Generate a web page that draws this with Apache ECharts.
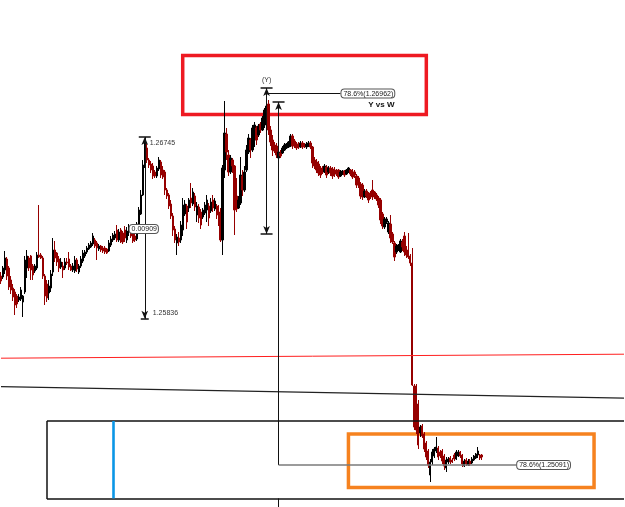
<!DOCTYPE html>
<html><head><meta charset="utf-8">
<script src="https://cdn.jsdelivr.net/npm/echarts@6/dist/echarts.min.js"></script>
<style>html,body{margin:0;padding:0;background:#fff;}#c{width:625px;height:507px;}</style>
</head><body><div id="c"></div>
<script>
const barCount = 313;
const categories = Array.from({length: barCount}, (_, i) => String(i + 1));

const openP = [
1.26050,1.26045,1.26080,1.26135,1.26090,1.26030,1.25990,1.25970,1.25950,1.25930,
1.25935,1.25920,1.25970,1.26090,1.26140,1.26150,1.26100,1.26075,1.26090,1.26155,
1.26155,1.26140,1.26050,1.26010,1.25965,1.25990,1.26070,1.26180,1.26165,1.26135,
1.26095,1.26100,1.26090,1.26120,1.26135,1.26100,1.26080,1.26075,1.26130,1.26070,
1.26100,1.26125,1.26150,1.26170,1.26185,1.26195,1.26210,1.26230,1.26215,1.26185,
1.26200,1.26190,1.26190,1.26185,1.26175,1.26205,1.26230,1.26240,1.26280,1.26230,
1.26280,1.26265,
1.26280,1.26230,1.26270,1.26285,1.26265,1.26250,1.26235,1.26310,
1.26360,1.26455,1.26600,1.26690,1.26630,1.26610,1.26600,1.26570,1.26550,1.26585,
1.26620,1.26580,1.26570,1.26480,1.26455,1.26410,1.26350,1.26285,1.26215,1.26240,
1.26230,1.26280,1.26360,1.26400,1.26390,1.26440,1.26410,1.26450,1.26355,1.26395,
1.26370,1.26345,1.26365,1.26380,1.26400,1.26375,1.26430,1.26385,1.26400,1.26370,
1.26320,1.26230,1.26580,1.26760,1.26655,1.26570,1.26630,1.26600,1.26450,1.26390,
1.26415,1.26550,1.26480,
1.26580,1.26670,1.26730,1.26680,1.26730,1.26790,1.26755,
1.26810,1.26780,1.26805,1.26840,1.26910,1.26780,1.26730,1.26705,1.26700,1.26640,
1.26665,1.26665,1.26680,1.26690,1.26695,1.26700,1.26750,1.26725,1.26710,1.26710,
1.26695,1.26715,1.26705,1.26695,1.26700,1.26715,1.26695,1.26630,1.26620,1.26610,
1.26590,1.26580,1.26570,1.26595,1.26570,1.26590,1.26585,1.26580,1.26575,1.26580,
1.26550,1.26565,1.26575,1.26560,1.26570,1.26580,1.26570,1.26570,1.26550,1.26540,
1.26510,1.26505,1.26445,1.26475,1.26460,1.26465,1.26480,1.26470,1.26455,1.26440,
1.26430,1.26360,1.26295,1.26320,1.26270,1.26310,1.26260,1.26215,1.26170,1.26180,
1.26170,1.26220,1.26250,1.26190,1.26180,1.26150,1.26115,1.25500,1.25500,1.25410,
1.25265,1.25300,1.25260,1.25215,1.25175,1.25055,1.25120,1.25150,1.25175,1.25190,
1.25170,1.25175,1.25150,1.25090,1.25120,1.25140,1.25130,1.25155,1.25135,1.25150,
1.25170,1.25155,1.25100,1.25130,1.25105,1.25125,1.25115,1.25130,1.25140,1.25155,
1.25155,1.25155];

const highP = [
1.26070,1.26100,1.26175,1.26145,1.26100,1.26050,1.26010,1.25985,1.25960,1.25960,
1.25995,1.25955,1.26150,1.26180,1.26150,1.26155,1.26110,1.26110,1.26170,1.26405,
1.26165,1.26150,1.26060,1.26030,1.26030,1.26080,1.26240,1.26225,1.26170,1.26150,
1.26140,1.26120,1.26140,1.26140,1.26170,1.26110,1.26115,1.26150,1.26140,1.26110,
1.26150,1.26180,1.26180,1.26200,1.26215,1.26225,1.26265,1.26240,1.26225,1.26210,
1.26205,1.26200,1.26200,1.26190,1.26230,1.26250,1.26265,1.26275,1.26305,1.26285,
1.26290,1.26275,
1.26300,1.26295,1.26310,1.26300,1.26280,1.26275,1.26320,1.26395,
1.26480,1.26630,1.26725,1.26710,1.26640,1.26625,1.26615,1.26580,1.26600,1.26645,
1.26630,1.26600,1.26580,1.26490,1.26465,1.26430,1.26365,1.26300,1.26260,1.26270,
1.26325,1.26440,1.26430,1.26410,1.26440,1.26515,1.26490,1.26465,1.26420,1.26410,
1.26385,1.26390,1.26420,1.26455,1.26415,1.26440,1.26455,1.26440,1.26410,1.26405,
1.26390,1.26605,1.26925,1.26790,1.26680,1.26655,1.26640,1.26605,1.26540,1.26450,
1.26645,1.26580,1.26600,
1.26705,1.26760,1.26740,1.26805,1.26820,1.26800,1.26810,
1.26820,1.26850,1.26890,1.26990,1.26930,1.26800,1.26755,1.26720,1.26715,1.26680,
1.26680,1.26700,1.26715,1.26715,1.26725,1.26760,1.26760,1.26735,1.26720,1.26720,
1.26725,1.26725,1.26715,1.26720,1.26725,1.26725,1.26700,1.26645,1.26635,1.26625,
1.26600,1.26600,1.26610,1.26605,1.26600,1.26600,1.26595,1.26595,1.26585,1.26585,
1.26580,1.26580,1.26580,1.26585,1.26595,1.26585,1.26585,1.26580,1.26560,1.26550,
1.26520,1.26515,1.26485,1.26485,1.26470,1.26475,1.26530,1.26475,1.26465,1.26450,
1.26440,1.26370,1.26345,1.26345,1.26325,1.26355,1.26270,1.26225,1.26210,1.26210,
1.26235,1.26235,1.26270,1.26200,1.26265,1.26160,1.26190,1.25510,1.25510,1.25430,
1.25305,1.25310,1.25270,1.25225,1.25185,1.25135,1.25185,1.25195,1.25245,1.25200,
1.25180,1.25185,1.25160,1.25145,1.25145,1.25150,1.25140,1.25165,1.25180,1.25180,
1.25175,1.25160,1.25135,1.25140,1.25135,1.25135,1.25145,1.25155,1.25165,1.25195,
1.25160,1.25160];

const lowP = [
1.26010,1.26035,1.26060,1.26030,1.25980,1.25960,1.25925,1.25855,1.25890,1.25920,
1.25925,1.25845,1.25960,1.26040,1.26075,1.26030,1.26030,1.26065,1.26080,1.26140,
1.26135,1.26035,1.25905,1.25920,1.25930,1.25970,1.26050,1.26120,1.26100,1.26070,
1.26085,1.26040,1.26080,1.26105,1.26080,1.26075,1.26070,1.26065,1.26070,1.26060,
1.26090,1.26115,1.26140,1.26160,1.26180,1.26190,1.26200,1.26190,1.26130,1.26175,
1.26170,1.26165,1.26160,1.26160,1.26170,1.26195,1.26220,1.26230,1.26220,1.26220,
1.26215,1.26210,
1.26220,1.26215,1.26250,1.26240,1.26215,1.26220,1.26225,1.26300,
1.26355,1.26450,1.26590,1.26615,1.26590,1.26565,1.26535,1.26540,1.26540,1.26575,
1.26540,1.26535,1.26455,1.26435,1.26385,1.26335,1.26250,1.26215,1.26155,1.26200,
1.26215,1.26250,1.26350,1.26285,1.26370,1.26390,1.26400,1.26375,1.26320,1.26315,
1.26285,1.26335,1.26355,1.26320,1.26300,1.26365,1.26370,1.26375,1.26335,1.26300,
1.26220,1.26155,1.26540,1.26630,1.26550,1.26560,1.26565,1.26255,1.26370,1.26385,
1.26405,1.26450,1.26470,
1.26570,1.26660,1.26640,1.26670,1.26695,1.26705,1.26745,
1.26765,1.26775,1.26790,1.26830,1.26755,1.26700,1.26650,1.26665,1.26640,1.26625,
1.26640,1.26660,1.26675,1.26685,1.26690,1.26695,1.26685,1.26690,1.26680,1.26685,
1.26690,1.26685,1.26690,1.26685,1.26695,1.26685,1.26590,1.26585,1.26565,1.26550,
1.26540,1.26560,1.26565,1.26540,1.26560,1.26550,1.26535,1.26545,1.26550,1.26535,
1.26545,1.26555,1.26545,1.26555,1.26565,1.26550,1.26535,1.26540,1.26490,1.26490,
1.26435,1.26430,1.26440,1.26440,1.26415,1.26435,1.26430,1.26435,1.26425,1.26390,
1.26310,1.26285,1.26285,1.26310,1.26260,1.26215,1.26210,1.26125,1.26160,1.26175,
1.26165,1.26175,1.26150,1.26140,1.26135,1.26100,1.25500,1.25280,1.25260,1.25185,
1.25245,1.25240,1.25170,1.25130,1.25090,1.25020,1.25105,1.25140,1.25165,1.25130,
1.25140,1.25110,1.25080,1.25070,1.25110,1.25110,1.25115,1.25125,1.25130,1.25145,
1.25140,1.25095,1.25095,1.25100,1.25100,1.25100,1.25110,1.25125,1.25135,1.25140,
1.25130,1.25130];

const closeP = [
1.26025,1.26090,1.26140,1.26050,1.25995,1.25980,1.25945,1.25905,1.25910,1.25945,
1.25980,1.25950,1.26130,1.26150,1.26090,1.26080,1.26055,1.26100,1.26155,1.26145,
1.26140,1.26050,1.25950,1.25940,1.26000,1.26060,1.26180,1.26140,1.26120,1.26090,
1.26120,1.26080,1.26120,1.26115,1.26095,1.26080,1.26100,1.26130,1.26085,1.26100,
1.26135,1.26165,1.26170,1.26190,1.26205,1.26215,1.26250,1.26200,1.26190,1.26200,
1.26180,1.26175,1.26170,1.26165,1.26215,1.26235,1.26255,1.26260,1.26230,1.26270,
1.26220,1.26220,
1.26240,1.26275,1.26290,1.26250,1.26225,1.26230,1.26310,1.26380,
1.26455,1.26605,1.26695,1.26630,1.26605,1.26580,1.26550,1.26550,1.26590,1.26630,
1.26555,1.26545,1.26480,1.26450,1.26400,1.26350,1.26280,1.26230,1.26245,1.26220,
1.26305,1.26405,1.26410,1.26320,1.26430,1.26415,1.26470,1.26395,1.26400,1.26340,
1.26305,1.26380,1.26405,1.26430,1.26340,1.26420,1.26390,1.26425,1.26355,1.26320,
1.26230,1.26590,1.26765,1.26670,1.26570,1.26640,1.26600,1.26380,1.26385,1.26430,
1.26555,1.26480,1.26570,
1.26680,1.26740,1.26680,1.26790,1.26805,1.26730,1.26800,
1.26780,1.26840,1.26880,1.26900,1.26780,1.26720,1.26680,1.26675,1.26655,1.26670,
1.26650,1.26690,1.26705,1.26710,1.26720,1.26750,1.26700,1.26700,1.26690,1.26695,
1.26715,1.26695,1.26700,1.26710,1.26715,1.26695,1.26615,1.26600,1.26580,1.26565,
1.26555,1.26570,1.26600,1.26555,1.26590,1.26565,1.26550,1.26560,1.26560,1.26545,
1.26570,1.26575,1.26555,1.26580,1.26590,1.26560,1.26545,1.26555,1.26505,1.26505,
1.26450,1.26445,1.26475,1.26450,1.26430,1.26445,1.26450,1.26445,1.26435,1.26405,
1.26330,1.26300,1.26335,1.26335,1.26315,1.26240,1.26220,1.26145,1.26200,1.26205,
1.26225,1.26195,1.26170,1.26155,1.26145,1.26115,1.25505,1.25295,1.25280,1.25205,
1.25295,1.25250,1.25185,1.25145,1.25105,1.25120,1.25170,1.25185,1.25195,1.25145,
1.25150,1.25125,1.25100,1.25130,1.25135,1.25120,1.25120,1.25135,1.25170,1.25170,
1.25150,1.25110,1.25125,1.25110,1.25125,1.25110,1.25135,1.25150,1.25160,1.25175,
1.25140,1.25145];

const priceRange = [1.24895, 1.27430];

// price-measure tool (bar index, top/bottom prices, labels)
const measureBar = 72;
const measurePrices = [1.26745, 1.25836];
const measureLabels = ['1.26745', '1.25836', '0.00909'];

// "Y vs W" drawing
const yMarkBar = 133;
const yMarkPrices = [1.26990, 1.26260];
const wMarkBar = 139;
const wMarkPrice = 1.26920;
const fibPrices = [1.26962, 1.25105];
const fibLabelBars = [170, 258];
const fibLabels = ['78.6%(1.26962)', '78.6%(1.25091)'];
const titleTexts = ['(Y)', 'Y vs W'];

// trend / average lines
const redLine = [[0, 1.25639], [312, 1.25659]];
const darkLine = [[0, 1.25497], [312, 1.25439]];
const blueLine = [[56, 1.25325], [56, 1.24938]];
const wTick = [[139, 1.24938], [139, 1.24895]];

// highlight boxes
const redBox = [[91, 1.27153], [213, 1.26857]];
const orangeBox = [[174, 1.25260], [297, 1.24992]];
const blackFrame = [[23, 1.25325], [312, 1.24935]];

const candleData = openP.map((o, i) => [o, closeP[i], lowP[i], highP[i]]);

const black = {color: '#111', width: 1, type: 'solid'};
const thickBlack = {color: '#111', width: 1.5, type: 'solid'};
const arrow = {symbol: 'arrow', symbolSize: [5, 8]};
function seg(a, b, style, sa, sb) {
  return [Object.assign({coord: a, lineStyle: style}, sa || {}), Object.assign({coord: b}, sb || {})];
}

const fL = blackFrame[0][0], fR = blackFrame[1][0], fT = blackFrame[0][1], fB = blackFrame[1][1];
const mlData = [
  seg(redLine[0], redLine[1], {color: '#ff1f1f', width: 1, type: 'solid'}),
  seg(darkLine[0], darkLine[1], {color: '#222', width: 1.2, type: 'solid'}),
  // open-ended black frame (left, top, bottom)
  seg([fL, fT], [fR, fT], thickBlack),
  seg([fL, fB], [fR, fB], thickBlack),
  seg([fL, fT], [fL, fB], thickBlack),
  seg(blueLine[0], blueLine[1], {color: '#0b96e6', width: 2.6, type: 'solid'}),
  seg(wTick[0], wTick[1], black),
  // measure tool
  seg([measureBar, measurePrices[0]], [measureBar, measurePrices[1]], black, arrow, arrow),
  seg([measureBar - 3, measurePrices[0]], [measureBar + 3, measurePrices[0]], thickBlack),
  seg([measureBar - 2, measurePrices[1]], [measureBar + 2, measurePrices[1]], thickBlack),
  // Y mark
  seg([yMarkBar, yMarkPrices[0]], [yMarkBar, yMarkPrices[1]], black, arrow, arrow),
  seg([yMarkBar - 3, yMarkPrices[0]], [yMarkBar + 3, yMarkPrices[0]], thickBlack),
  seg([yMarkBar - 3, yMarkPrices[1]], [yMarkBar + 3, yMarkPrices[1]], thickBlack),
  seg([yMarkBar, fibPrices[0]], [fibLabelBars[0], fibPrices[0]], black),
  // W mark
  seg([wMarkBar, wMarkPrice], [wMarkBar, fibPrices[1]], black, arrow, {symbol: 'none'}),
  seg([wMarkBar - 3, wMarkPrice], [wMarkBar + 3, wMarkPrice], thickBlack),
  seg([wMarkBar, fibPrices[1]], [fibLabelBars[1], fibPrices[1]], {color: '#7a7a7a', width: 1.5, type: 'solid'})
];

const box = (b, color, w) => [{coord: b[0], itemStyle: {color: 'rgba(0,0,0,0)', borderColor: color, borderWidth: w}}, {coord: b[1]}];

const chart = echarts.init(document.getElementById('c'), null, {renderer: 'canvas'});
chart.setOption({
  animation: false,
  backgroundColor: '#ffffff',
  grid: {left: 0, top: 0, right: 0, bottom: 0, containLabel: false},
  xAxis: {type: 'category', data: categories, boundaryGap: true, show: false},
  yAxis: {type: 'value', min: priceRange[0], max: priceRange[1], show: false, scale: true},
  series: [
    {
      type: 'candlestick',
      data: candleData,
      barWidth: 1.8,
      z: 2,
      itemStyle: {color: '#000000', color0: '#960000', borderColor: '#000000', borderColor0: '#960000', borderWidth: 1},
      silent: true
    },
    {
      type: 'line',
      data: [],
      z: 4,
      silent: true,
      markArea: {
        silent: true,
        data: [box(redBox, '#ee1a22', 3.5), box(orangeBox, '#f6821f', 3.5)]
      },
      markLine: {
        silent: true,
        animation: false,
        symbol: ['none', 'none'],
        label: {show: false},
        emphasis: {disabled: true},
        data: mlData
      }
    }
  ]
});

const P = (k, p) => chart.convertToPixel({gridIndex: 0}, [k, p]);
const mTop = P(measureBar, measurePrices[0]);
const mBot = P(measureBar, measurePrices[1]);
const yTop = P(yMarkBar, yMarkPrices[0]);
const f1 = P(fibLabelBars[0], fibPrices[0]);
const f2 = P(fibLabelBars[1], fibPrices[1]);
const font = '"Liberation Sans", Arial, sans-serif';
const boxStyle = {fontSize: 7, fontFamily: font, fill: '#222', backgroundColor: '#fff', borderColor: '#555', borderWidth: 1, borderRadius: 3, padding: [1, 1, 0, 2]};

chart.setOption({
  graphic: [
    {type: 'text', z: 100, x: mTop[0] + 5, y: mTop[1] + 6, style: {text: measureLabels[0], fontSize: 7, fontFamily: font, fill: '#333', align: 'left', verticalAlign: 'middle'}},
    {type: 'text', z: 100, x: mBot[0] + 8, y: mBot[1] - 6, style: {text: measureLabels[1], fontSize: 7, fontFamily: font, fill: '#333', align: 'left', verticalAlign: 'middle'}},
    {type: 'text', z: 100, x: mTop[0] - 1, y: (mTop[1] + mBot[1]) / 2 + 1, style: Object.assign({text: measureLabels[2], align: 'center', verticalAlign: 'middle'}, boxStyle)},
    {type: 'text', z: 100, x: yTop[0], y: yTop[1] - 8, style: {text: titleTexts[0], fontSize: 7, fontFamily: font, fill: '#333', align: 'center', verticalAlign: 'middle'}},
    {type: 'text', z: 100, x: f1[0] + 1, y: f1[1], style: Object.assign({text: fibLabels[0], align: 'left', verticalAlign: 'middle'}, boxStyle)},
    {type: 'text', z: 100, x: f1[0] + 54, y: f1[1] + 11, style: {text: titleTexts[1], fontSize: 8, fontWeight: 'bold', fontFamily: font, fill: '#111', align: 'right', verticalAlign: 'middle'}},
    {type: 'text', z: 100, x: f2[0] + 1, y: f2[1], style: Object.assign({text: fibLabels[1], align: 'left', verticalAlign: 'middle'}, boxStyle)}
  ]
});
</script>
</body></html>
